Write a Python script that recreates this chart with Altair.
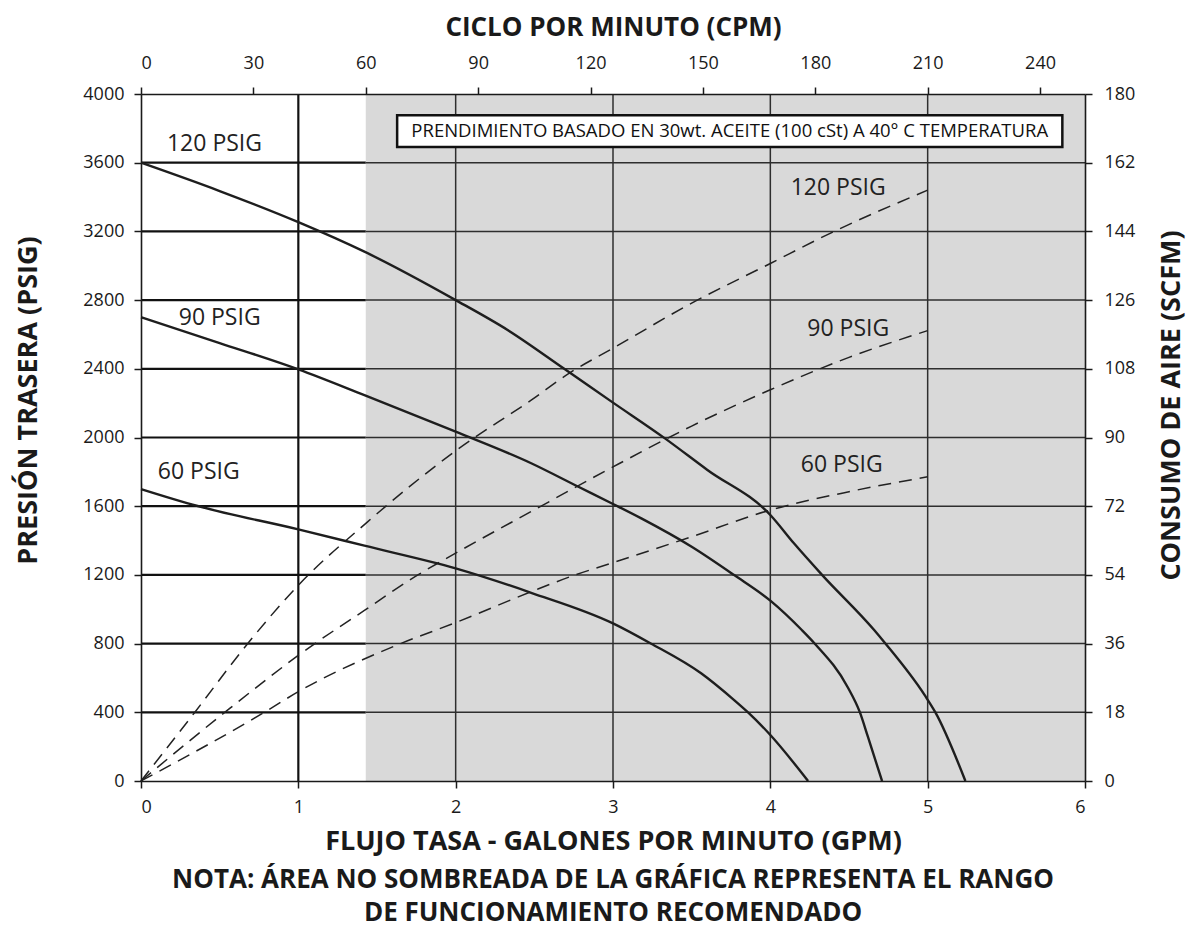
import altair as alt
import pandas as pd

# ---------------- data ----------------
CPM_PER_GPM = 42          # pump cycles per gallon
SHADE_START_CPM = 60      # shaded (not recommended) region starts here

gpm_ticks = [0, 1, 2, 3, 4, 5, 6]
psig_ticks = [0, 400, 800, 1200, 1600, 2000, 2400, 2800, 3200, 3600, 4000]
scfm_ticks = [0, 18, 36, 54, 72, 90, 108, 126, 144, 162, 180]
cpm_ticks = [0, 30, 60, 90, 120, 150, 180, 210, 240]

# back pressure (solid)
bp_gpm_120 = [0, 0.5, 1.0, 1.42, 2.0, 2.33, 2.69, 3.0, 3.33, 3.6, 4.0, 4.15, 4.33, 4.66, 4.73, 4.98, 5.05, 5.24]
bp_psig_120 = [3600, 3435, 3254, 3082, 2800, 2626, 2400, 2203, 1995, 1811, 1549, 1384, 1199, 879, 802, 501, 398, 0]
bp_gpm_90 = [0, 0.5, 1.0, 1.42, 2.0, 2.48, 2.78, 3.0, 3.18, 3.5, 3.77, 4.0, 4.2, 4.28, 4.49, 4.57, 4.62, 4.71]
bp_psig_90 = [2700, 2550, 2397, 2247, 2034, 1850, 1713, 1613, 1529, 1364, 1199, 1050, 879, 802, 549, 398, 258, 0]
bp_gpm_60 = [0, 0.36, 1.0, 1.42, 2.0, 2.48, 3.0, 3.24, 3.56, 3.77, 3.86, 3.99, 4.24]
bp_psig_60 = [1700, 1601, 1465, 1370, 1238, 1096, 918, 801, 627, 471, 398, 278, 0]

# air consumption (dashed)
air_gpm_120 = [0, 0.34, 0.68, 1.0, 1.44, 2.0, 2.48, 2.72, 3.0, 3.5, 4.0, 4.38, 5.0]
air_scfm_120 = [0, 17.9, 36.1, 51.3, 67.9, 86.5, 99.8, 106.8, 113.4, 125.2, 135.6, 143.5, 154.8]
air_gpm_90 = [0, 0.53, 1.06, 1.42, 1.76, 2.0, 2.48, 3.0, 3.5, 4.0, 4.5, 5.0]
air_scfm_90 = [0, 17.9, 34.7, 44.7, 54.0, 59.7, 70.6, 82.3, 93.0, 102.5, 111.0, 118.0]
air_gpm_60 = [0, 0.78, 1.0, 1.65, 2.0, 2.48, 2.76, 3.0, 3.5, 4.0, 4.5, 5.0]
air_scfm_60 = [0, 17.9, 23.4, 36.0, 41.5, 49.6, 54.0, 57.2, 64.0, 71.0, 75.8, 79.7]

series_names = ["120 PSIG", "90 PSIG", "60 PSIG"]
bp_label_gpm = [0.467, 0.50, 0.367]
bp_label_psig = [3709, 2694, 1801]
air_label_gpm = [4.431, 4.495, 4.454]
air_label_scfm = [155.3, 118.5, 82.7]

note_text = "PRENDIMIENTO BASADO EN 30wt. ACEITE (100 cSt) A 40° C TEMPERATURA"
note_box_gpm = [1.628, 5.856]
note_box_psig = [3691, 3877]

# ---------------- tables ----------------
solid_df = pd.concat([
    pd.DataFrame({"series": n, "gpm": g, "psig": p})
    for n, g, p in zip(series_names, [bp_gpm_120, bp_gpm_90, bp_gpm_60],
                       [bp_psig_120, bp_psig_90, bp_psig_60])
])
dashed_df = pd.concat([
    pd.DataFrame({"series": n, "gpm": g, "scfm": s})
    for n, g, s in zip(series_names, [air_gpm_120, air_gpm_90, air_gpm_60],
                       [air_scfm_120, air_scfm_90, air_scfm_60])
])
shade_start = SHADE_START_CPM / CPM_PER_GPM
shade_df = pd.DataFrame({"x0": [shade_start], "x1": [gpm_ticks[-1]],
                         "y0": [psig_ticks[0]], "y1": [psig_ticks[-1]]})
inner_psig = psig_ticks[1:-1]
gridh_white = pd.DataFrame({"psig": inner_psig, "x0": 0, "x1": shade_start})
gridh_gray = pd.DataFrame({"psig": inner_psig, "x0": shade_start, "x1": gpm_ticks[-1]})
inner_gpm = gpm_ticks[1:-1]
gridv = pd.DataFrame({"gpm": inner_gpm, "y0": psig_ticks[0], "y1": psig_ticks[-1]})
gridv_white = gridv[gridv.gpm < shade_start]
gridv_gray = gridv[gridv.gpm > shade_start]
bp_labels = pd.DataFrame({"label": series_names, "gpm": bp_label_gpm, "psig": bp_label_psig})
air_labels = pd.DataFrame({"label": series_names, "gpm": air_label_gpm, "scfm": air_label_scfm})
note_df = pd.DataFrame({"text": [note_text], "x0": [note_box_gpm[0]], "x1": [note_box_gpm[1]],
                        "y0": [note_box_psig[0]], "y1": [note_box_psig[1]],
                        "xm": [sum(note_box_gpm) / 2], "ym": [sum(note_box_psig) / 2]})
cpm_df = pd.DataFrame({"cpm": cpm_ticks})

# ---------------- scales / axes ----------------
FONT = "Open Sans"
INK = "#1a1a1a"
xs = alt.Scale(domain=[gpm_ticks[0], gpm_ticks[-1]], nice=False, zero=False)
ys = alt.Scale(domain=[psig_ticks[0], psig_ticks[-1]], nice=False, zero=False)
ss = alt.Scale(domain=[scfm_ticks[0], scfm_ticks[-1]], nice=False, zero=False)
cs = alt.Scale(domain=[0, gpm_ticks[-1] * CPM_PER_GPM], nice=False, zero=False)

ax = dict(domainColor=INK, domainWidth=1.6, tickColor=INK, tickWidth=1.5, tickSize=7,
          labelFont=FONT, labelFontSize=18, labelColor=INK, titleFont=FONT,
          titleFontWeight="bold", titleColor=INK, grid=False, zindex=2)

bottom_axis = alt.Axis(orient="bottom", values=gpm_ticks, format="d", labelPadding=10,
                       title="FLUJO TASA - GALONES POR MINUTO (GPM)", titleFontSize=27,
                       titlePadding=12, **ax)
left_axis = alt.Axis(orient="left", values=psig_ticks, format="d", labelPadding=10,
                     title="PRESIÓN TRASERA (PSIG)", titleFontSize=27, titleAngle=270,
                     titleX=-113, titleY=306, titleAlign="center", titleBaseline="middle", **ax)
right_axis = alt.Axis(orient="right", values=scfm_ticks, format="d", labelPadding=12,
                      title="CONSUMO DE AIRE (SCFM)", titleFontSize=27, titleAngle=270,
                      titleX=86, titleY=311, titleAlign="center", titleBaseline="middle", **ax)
top_axis = alt.Axis(orient="top", values=cpm_ticks, format="d", labelPadding=15,
                    title="CICLO POR MINUTO (CPM)", titleFontSize=26, titlePadding=14, **ax)

shade = alt.Chart(shade_df).mark_rect(color="#d9d9d9").encode(
    x=alt.X("x0:Q", scale=xs, axis=bottom_axis), x2="x1:Q",
    y=alt.Y("y0:Q", scale=ys, axis=left_axis), y2="y1:Q")

def hrules(df, width, color):
    return alt.Chart(df).mark_rule(strokeWidth=width, color=color).encode(
        x=alt.X("x0:Q", scale=xs, axis=None), x2="x1:Q",
        y=alt.Y("psig:Q", scale=ys, axis=None))

def vrules(df, width, color):
    return alt.Chart(df).mark_rule(strokeWidth=width, color=color).encode(
        x=alt.X("gpm:Q", scale=xs, axis=None),
        y=alt.Y("y0:Q", scale=ys, axis=None), y2="y1:Q")

grid_layers = [hrules(gridh_white, 2.2, "#111"), hrules(gridh_gray, 1.5, "#2e2e2e"),
               vrules(gridv_white, 2.2, "#111"), vrules(gridv_gray, 1.5, "#2e2e2e")]

solid = alt.Chart(solid_df).mark_line(color="#1e1e1e", strokeWidth=2.4, interpolate="monotone").encode(
    x=alt.X("gpm:Q", scale=xs, axis=None),
    y=alt.Y("psig:Q", scale=ys, axis=None),
    detail="series:N")

dashed = alt.Chart(dashed_df).mark_line(color="#222", strokeWidth=1.5, strokeDash=[13, 8],
                                        interpolate="monotone").encode(
    x=alt.X("gpm:Q", scale=xs, axis=None),
    y=alt.Y("scfm:Q", scale=ss, axis=right_axis),
    detail="series:N")

bp_text = alt.Chart(bp_labels).mark_text(font=FONT, fontSize=23, color="#222").encode(
    x=alt.X("gpm:Q", scale=xs, axis=None), y=alt.Y("psig:Q", scale=ys, axis=None), text="label:N")
air_text = alt.Chart(air_labels).mark_text(font=FONT, fontSize=23, color="#222").encode(
    x=alt.X("gpm:Q", scale=xs, axis=None), y=alt.Y("scfm:Q", scale=ss, axis=None), text="label:N")

note_box = alt.Chart(note_df).mark_rect(fill="white", stroke="#111", strokeWidth=2.5).encode(
    x=alt.X("x0:Q", scale=xs, axis=None), x2="x1:Q",
    y=alt.Y("y0:Q", scale=ys, axis=None), y2="y1:Q")
note_txt = alt.Chart(note_df).mark_text(font=FONT, fontSize=18.5, color="#111").encode(
    x=alt.X("xm:Q", scale=xs, axis=None), y=alt.Y("ym:Q", scale=ys, axis=None), text="text:N")

cpm_layer = alt.Chart(cpm_df).mark_point(opacity=0).encode(
    x=alt.X("cpm:Q", scale=cs, axis=top_axis))

chart = alt.layer(
    shade, *grid_layers, dashed, solid, bp_text, air_text, note_box, note_txt, cpm_layer
).resolve_scale(x="independent", y="independent").properties(
    width=944, height=687,
    padding={"left": 6, "top": 6, "right": 4, "bottom": 6},
    title=alt.Title(
        text=["NOTA: ÁREA NO SOMBREADA DE LA GRÁFICA REPRESENTA EL RANGO",
              "DE FUNCIONAMIENTO RECOMENDADO"],
        orient="bottom", anchor="middle", font=FONT, fontSize=26, fontWeight="bold",
        color=INK, lineHeight=33, offset=13),
).configure_view(stroke=None).configure(background="white")

chart.save("out.html", embed_options={"renderer": "svg", "actions": False})
